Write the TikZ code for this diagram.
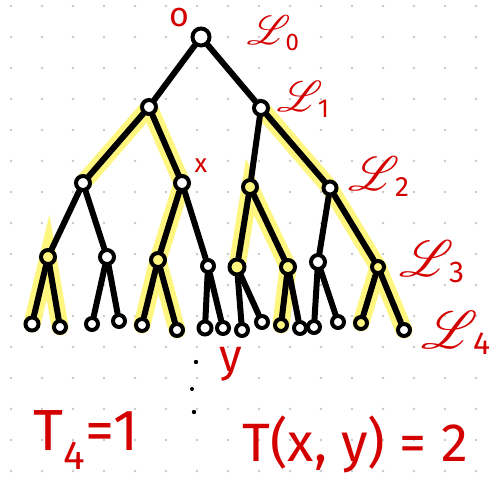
\documentclass[tikz,border=0pt]{standalone}
\usepackage{mathrsfs}
\usepackage{fontspec}
\setmainfont{Fira Sans}
\usetikzlibrary{backgrounds}
\definecolor{inkred}{RGB}{212,0,0}
\definecolor{marker}{RGB}{255,246,128}
\definecolor{dotgray}{RGB}{200,200,200}
\newcommand{\lvl}[3]{\scalebox{#1}{$\mathscr{L}$}\kern-5pt\raisebox{-6pt}{\fontsize{#2}{#2}\selectfont #3}}
\tikzset{
  vtx/.style={circle, draw, line width=4pt, fill=white, inner sep=0pt, minimum size=12pt},
  hvtx/.style={vtx, fill=marker},
  edge/.style={line width=6pt, line cap=round},
  glow/.style={draw=marker, line width=17pt, line cap=round},
  lab/.style={text=inkred, inner sep=0pt},
}
\begin{document}
\begin{tikzpicture}[x=1pt,y=-1pt]
\useasboundingbox (0,0) rectangle (493,480);

% vertices, level by level
\node[vtx, minimum size=17pt] (r) at (201,37) {};
\node[vtx, minimum size=14pt] (l1a) at (149,107) {};
\node[vtx, minimum size=14pt] (l1b) at (261,108) {};
\node[vtx, minimum size=14pt] (l2a) at (83,183) {};
\node[vtx, minimum size=14pt] (l2b) at (182,183) {};
\node[hvtx, minimum size=14pt] (l2c) at (250,187) {};
\node[vtx, minimum size=13pt] (l2d) at (330,188) {};
\node[hvtx, minimum size=14pt] (l3a) at (48,257) {};
\node[vtx, minimum size=14pt] (l3b) at (107,257) {};
\node[hvtx, minimum size=14pt] (l3c) at (158,260) {};
\node[vtx] (l3d) at (208,266) {};
\node[hvtx, minimum size=15pt] (l3e) at (237,267) {};
\node[hvtx, minimum size=14pt] (l3f) at (288,267) {};
\node[vtx, minimum size=14pt] (l3g) at (318,262) {};
\node[hvtx] (l3h) at (378,267) {};
\node[vtx, minimum size=13pt] (l4a) at (32,324) {};
\node[vtx] (l4b) at (60,327) {};
\node[vtx] (l4c) at (92,324) {};
\node[vtx] (l4d) at (119,321) {};
\node[vtx] (l4e) at (142,325) {};
\node[vtx] (l4f) at (177,330) {};
\node[vtx, minimum size=13pt] (l4g) at (205,328) {};
\node[vtx] (l4h) at (223,328) {};
\node[vtx] (l4i) at (242,330) {};
\node[vtx] (l4j) at (262,322) {};
\node[hvtx] (l4k) at (281,325) {};
\node[vtx] (l4l) at (300,328) {};
\node[vtx] (l4m) at (314,327) {};
\node[vtx] (l4n) at (338,322) {};
\node[hvtx] (l4o) at (361,323) {};
\node[vtx] (l4p) at (404,330) {};

\begin{pgfonlayer}{background}
% dotted paper
\foreach \i in {0,...,15}
  \foreach \j in {0,...,15}
    \fill[dotgray] (11+31*\i,6+31*\j) circle (1.4pt);

% highlighted paths
\draw[glow] (l1a.center) -- (l2a.center);
\draw[glow] (l1a.center) -- (l2b.center) -- (l3c.center) -- (l4e.center);
\draw[glow] (l3c.center) -- (l4f.center);
\draw[glow] (l4a.center) -- (l3a.center) -- (l4b.center);
\draw[glow] (l1b.center) -- (l2d.center) -- (l3h.center) -- (l4o.center);
\draw[glow] (l3h.center) -- (l4p.center);
\draw[glow] (l3e.center) -- (l2c.center) -- (l3f.center) -- (l4k.center);

% tree edges
\draw[edge] (r) -- (l1a);
\draw[edge] (r) -- (l1b);
\draw[edge] (l1a) -- (l2a);
\draw[edge] (l1a) -- (l2b);
\draw[edge] (l1b) -- (l2c);
\draw[edge] (l1b) -- (l2d);
\draw[edge] (l2a) -- (l3a);
\draw[edge] (l2a) -- (l3b);
\draw[edge] (l2b) -- (l3c);
\draw[edge] (l2b) -- (l3d);
\draw[edge] (l2c) -- (l3e);
\draw[edge] (l2c) -- (l3f);
\draw[edge] (l2d) -- (l3g);
\draw[edge] (l2d) -- (l3h);
\draw[edge] (l3a) -- (l4a);
\draw[edge] (l3a) -- (l4b);
\draw[edge] (l3b) -- (l4c);
\draw[edge] (l3b) -- (l4d);
\draw[edge] (l3c) -- (l4e);
\draw[edge] (l3c) -- (l4f);
\draw[edge] (l3d) -- (l4g);
\draw[edge] (l3d) -- (l4h);
\draw[edge] (l3e) -- (l4i);
\draw[edge] (l3e) -- (l4j);
\draw[edge] (l3f) -- (l4k);
\draw[edge] (l3f) -- (l4l);
\draw[edge] (l3g) -- (l4m);
\draw[edge] (l3g) -- (l4n);
\draw[edge] (l3h) -- (l4o);
\draw[edge] (l3h) -- (l4p);
\end{pgfonlayer}

% labels
\node[lab, anchor=base, font=\fontsize{34}{34}\selectfont] (o) at (179,26) {o};
\node[lab, font=\fontsize{26}{26}\selectfont] (x) at (201,166) {x};
\node[lab, font=\fontsize{46}{46}\selectfont] (y) at (231,364) {y};
\node[lab] (L0) at (273,33) {\lvl{4.1}{24}{0}};
\node[lab] (L1) at (303,99) {\lvl{4.3}{26}{1}};
\node[lab] (L2) at (379,177) {\lvl{4.8}{28}{2}};
\node[lab] (L3) at (432,262) {\lvl{5.1}{30}{3}};
\node[lab] (L4) at (456,333) {\lvl{5.3}{32}{4}};
\node[lab, font=\fontsize{58}{58}\selectfont] (T4) at (86,440) {T\textsubscript{4}=1};
\node[lab, font=\fontsize{54}{54}\selectfont] (Txy) at (355,444) {T(x, y) = 2};

% vertical dots
\fill (196,362) circle (2.2pt);
\fill (192,389) circle (2pt);
\fill (194,412) circle (2.2pt);
\end{tikzpicture}
\end{document}
